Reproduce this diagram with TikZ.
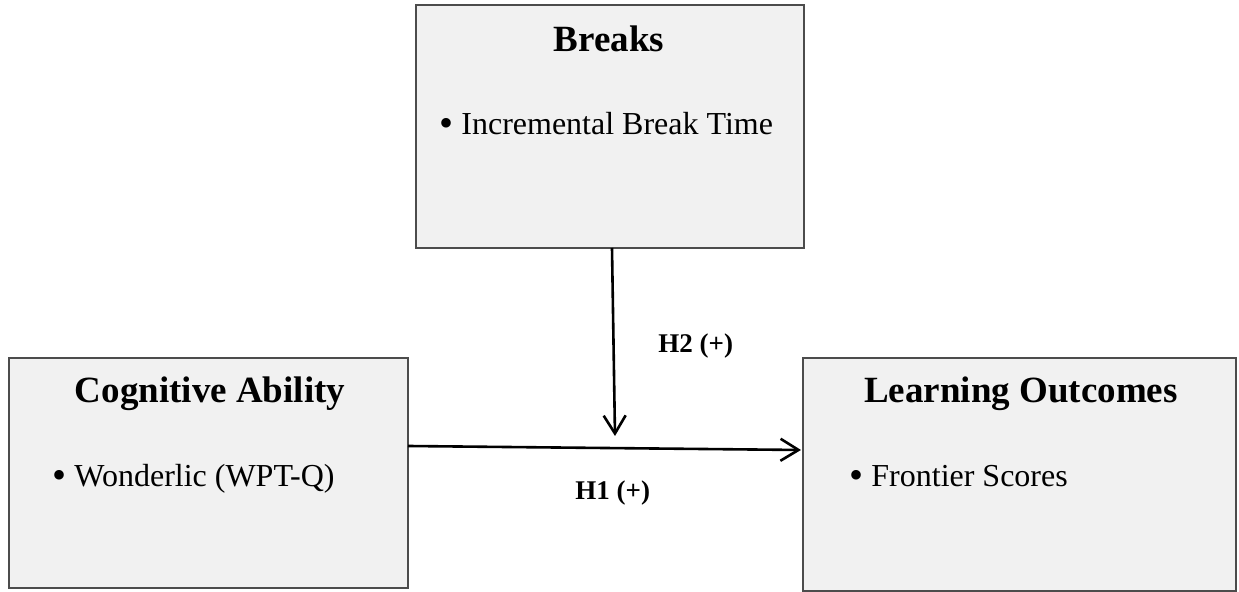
\documentclass[tikz,border=0pt]{standalone}
\usepackage{fontspec}
\setmainfont{Liberation Serif}
\usepackage{tikz}
\usetikzlibrary{arrows.meta}

\newcommand{\itembullet}{\raisebox{-0.8pt}{\fontsize{20}{20}\selectfont\textbullet}\hspace{0.25em}}

\begin{document}
\begin{tikzpicture}[x=0.5pt,y=-0.5pt,
    box/.style={draw=black!70,line width=1pt,fill=black!5.5,inner sep=0pt,outer sep=0pt},
    title/.style={anchor=base,font=\fontsize{18.5}{20}\selectfont\bfseries},
    item/.style={anchor=base west,inner sep=0pt,font=\fontsize{16}{18}\selectfont},
    hyp/.style={anchor=base west,inner sep=0pt,font=\fontsize{13.5}{15}\selectfont\bfseries},
    link/.style={line width=1.3pt,-{Straight Barb[length=9pt,width=11pt,line width=1.3pt]}}]
            \useasboundingbox (0,0) rectangle (1239,592);
            \node [box,minimum width=194pt,minimum height=121.5pt] (brk) at (610,126.5) {};
            \node [box,minimum width=199.5pt,minimum height=115pt] (cog) at (208.5,473) {};
            \node [box,minimum width=216.5pt,minimum height=116.5pt] (learn) at (1019.5,474.5) {};
            \node [title] (brktitle) at (609,52) {Breaks};
            \node [title] (cogtitle) at (210,403) {Cognitive Ability};
            \node [title] (learntitle) at (1021,403) {Learning Outcomes};
            \node [item] (brkitem) at (439,135) {\itembullet Incremental Break Time};
            \node [item] (cogitem) at (52,487) {\itembullet Wonderlic (WPT-Q)};
            \node [item] (learnitem) at (849,487) {\itembullet Frontier Scores};
            \coordinate (h2tip) at (615,436);
            \draw [link] (brk.south -| 612,0) -- (h2tip);
            \draw [link] (cog.east |- 0,446) -- ([xshift=-1pt]learn.west |- 0,450);
            \node [hyp] (h2) at (658,353) {H2 (+)};
            \node [hyp] (h1) at (575,500) {H1 (+)};
        \end{tikzpicture}
\end{document}
